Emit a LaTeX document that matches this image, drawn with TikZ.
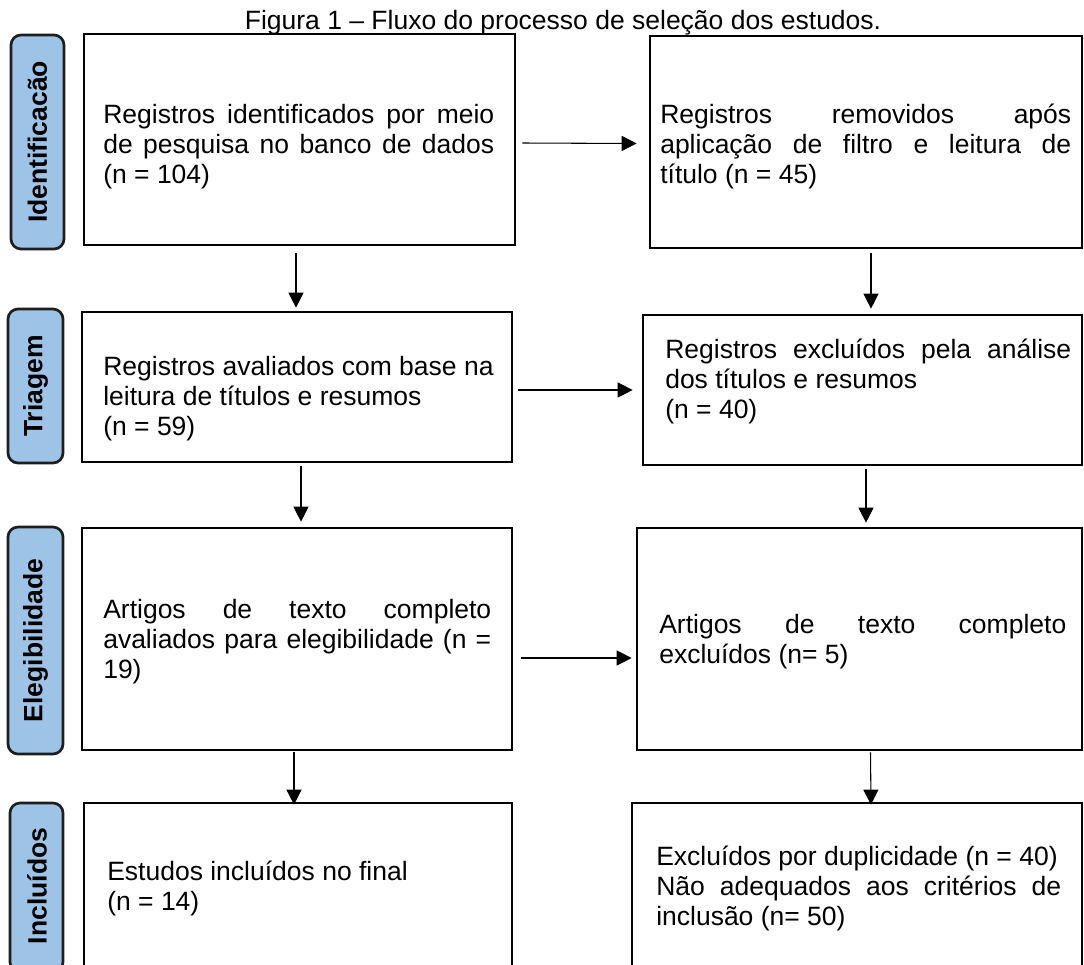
\documentclass[tikz,border=0pt]{standalone}
\usepackage{fontspec}
\setmainfont{Liberation Sans}
\usetikzlibrary{arrows.meta,fit,calc}
\definecolor{labblue}{RGB}{157,195,230}
\definecolor{labedge}{RGB}{30,30,30}
\tikzset{
  box/.style={draw=black, line width=2pt, inner sep=0pt},
  lab/.style={draw=labedge, fill=labblue, line width=2pt, rounded corners=7.5pt, inner sep=0pt},
  labtxt/.style={rotate=90, font=\fontsize{19.875pt}{22.5pt}\selectfont\bfseries, inner sep=0pt},
  txt/.style={font=\fontsize{19.875pt}{22.5pt}\selectfont, inner sep=0pt, anchor=base west},
  ttl/.style={font=\fontsize{19.875pt}{22.5pt}\selectfont, inner sep=0pt, anchor=base},
  arr/.style={line width=0.8pt, -{Triangle[length=11.25pt,width=11.25pt]}},
}
\newcommand{\jl}[1]{\makebox[\linewidth][s]{#1}\\}
\begin{document}
\begin{tikzpicture}[x=0.75pt,y=-0.75pt]
\useasboundingbox (0,0) rectangle (1084,964);
\fill[white] (0,0) rectangle (1084,964);
\clip (0,0) rectangle (1084,964);

% title
\node[ttl] (title) at (563,29) {Figura 1 – Fluxo do processo de seleção dos estudos.};

% phase labels
\node[lab, fit={(11,35) (64,249)}] (l1) {};
\node[labtxt] (lt1) at (l1.center) {Identificacão};
\node[lab, fit={(8,309) (63,463)}] (l2) {};
\node[labtxt] (lt2) at (l2.center) {Triagem};
\node[lab, fit={(8,527) (63,754)}] (l3) {};
\node[labtxt] (lt3) at (l3.center) {Elegibilidade};
\node[lab, fit={(10,803) (63,972)}] (l4) {};
\node[labtxt] (lt4) at (37,886) {Incluídos};

% boxes
\node[box, fit={(84,34) (515,245)}] (b1) {};
\node[box, fit={(650,36) (1082,248)}] (b2) {};
\node[box, fit={(82,312) (512,462)}] (b3) {};
\node[box, fit={(643,315) (1082,465)}] (b4) {};
\node[box, fit={(82,528) (512,750)}] (b5) {};
\node[box, fit={(637,528) (1082,750)}] (b6) {};
\node[box, fit={(84,803) (512,975)}] (b7) {};
\node[box, fit={(632,803) (1082,975)}] (b8) {};

% texts
\node[txt] (t1) at (103,123) {\parbox[t]{293.25pt}{\jl{Registros identificados por meio}\jl{de pesquisa no banco de dados}(n = 104)}};
\node[txt] (t2) at (660,123) {\parbox[t]{308.25pt}{\jl{Registros removidos após}\jl{aplicação de filtro e leitura de}título (n = 45)}};
\node[txt] (t3) at (103,375) {\parbox[t]{293.25pt}{Registros avaliados com base na\\leitura de títulos e resumos\\(n = 59)}};
\node[txt] (t4) at (665,358) {\parbox[t]{304.5pt}{\jl{Registros excluídos pela análise}dos títulos e resumos\\(n = 40)}};
\node[txt] (t5) at (103,618) {\parbox[t]{291pt}{\jl{Artigos de texto completo}\jl{avaliados para elegibilidade (n =}19)}};
\node[txt] (t6) at (659,633) {\parbox[t]{305.25pt}{\jl{Artigos de texto completo}excluídos (n= 5)}};
\node[txt] (t7) at (107,880) {\parbox[t]{285pt}{Estudos incluídos no final\\(n = 14)}};
\node[txt] (t8) at (656,865) {\parbox[t]{303.75pt}{Excluídos por duplicidade (n = 40)\\\jl{Não adequados aos critérios de}inclusão (n= 50)}};

% horizontal arrows
\draw[arr] ($(b1.east)+(6,3.5)$) -- ($(b2.west)+(-12,1.5)$);
\draw[arr] ($(b3.east)+(5,3)$) -- ($(b4.west)+(-9,0)$);
\draw[arr] ($(b5.east)+(8,19)$) -- ($(b6.west)+(-4,19)$);

% vertical arrows
\draw[arr] ($(b1.south)+(-3.5,7)$) -- ($(b3.north)+(-1,-3)$);
\draw[arr] ($(b2.south)+(5,4)$) -- ($(b4.north)+(8.5,-5)$);
\draw[arr] ($(b3.south)+(4,3)$) -- ($(b5.north)+(4,-5)$);
\draw[arr] ($(b4.south)+(3.5,3)$) -- ($(b6.north)+(6.5,-4)$);
\draw[arr] ($(b5.south)+(-3,1)$) -- ($(b7.north)+(-4,3)$);
\draw[arr] ($(b6.south)+(11,1)$) -- ($(b8.north)+(14,3)$);
\end{tikzpicture}
\end{document}
